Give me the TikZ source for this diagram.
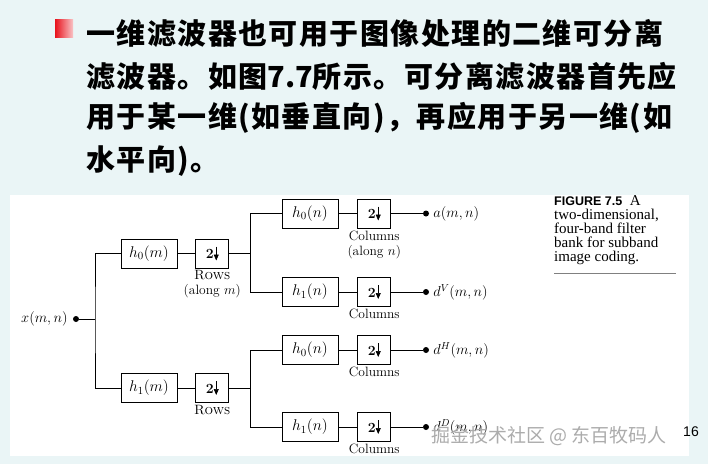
\documentclass[tikz,border=0pt]{standalone}
\usepackage{fix-cm}
\usepackage{fontspec}
\usepackage{amsmath}
\newfontfamily\cjk{Noto Sans CJK SC}[LetterSpace=5]
\newfontfamily\cjkmark{Noto Sans CJK SC}
\newfontfamily\capsans{Liberation Sans}
\newfontfamily\capserif{Liberation Serif}
\usetikzlibrary{positioning,arrows.meta}
\definecolor{slidebg}{RGB}{234,245,246}
\definecolor{bulletred}{RGB}{232,18,28}

% down-sampling arrow
\newcommand{\dsarrow}{\tikz[baseline=0pt,x=1pt,y=1pt]\draw[line width=0.7pt,-{Triangle[length=6pt,width=5pt]}] (0,12)--(0,-2);}

\tikzset{
  filt/.style={draw, line width=0.8pt, minimum width=56pt, minimum height=29pt, inner sep=0pt, font=\fontsize{15.5}{17}\selectfont},
  down/.style={draw, line width=0.8pt, minimum width=33pt, minimum height=29pt, inner sep=0pt, font=\fontsize{14}{16}\selectfont\bfseries},
  tap/.style={circle, fill, inner sep=0pt, minimum size=6pt},
  lbl/.style={font=\fontsize{13.5}{15}\selectfont, align=center, inner sep=1pt},
  sig/.style={font=\fontsize{14.5}{16}\selectfont, inner sep=1pt},
  wire/.style={line width=0.8pt},
  title/.style={font=\cjk\bfseries\fontsize{29}{29}\selectfont, anchor=west, inner sep=0pt}
}

\begin{document}
\begin{tikzpicture}[x=1pt,y=-1pt]
  \useasboundingbox (0,0) rectangle (708,464);
  % Fundo
  \fill[slidebg] (0,0) rectangle (708,464);
  \fill[white] (10,195) rectangle (689,456);

  % Titulo
  \shade[left color=bulletred, right color=bulletred!25] (55,19) rectangle (73,37);
  \node[title] (t1) at (86,33) {一维滤波器也可用于图像处理的二维可分离};
  \node[title] (t2) at (86,76) {滤波器。如图{\addfontfeature{LetterSpace=0}7.7}所示。可分离滤波器首先应};
  \node[title] (t3) at (86,118) {用于某一维(如垂直向)，再应用于另一维(如};
  \node[title] (t4) at (86,161) {水平向)。};

  % Entrada e linhas
  \node[tap] (xin) at (76,319) {};
  \node[sig, left=4pt of xin] (xlab) {$x(m,n)$};
  \coordinate (sp) at (95,319);
  \node[filt] (h0m) at (149,253.5) {$h_0(m)$};
  \node[down, right=18pt of h0m] (d0m) {2\dsarrow};
  \node[filt] (h1m) at (149,388) {$h_1(m)$};
  \node[down, right=18pt of h1m] (d1m) {2\dsarrow};
  \node[lbl, below=1pt of d0m] (r0) {\textsc{Rows}\\(along $m$)};
  \node[lbl, below=1pt of d1m] (r1) {\textsc{Rows}};
  \draw[wire] (xin) -- (sp);
  \draw[wire] (h0m.west) -| (sp) |- (h1m.west);
  \draw[wire] (h0m) -- (d0m);
  \draw[wire] (h1m) -- (d1m);

  % Colunas
  \foreach \nm/\src/\y/\k/\out/\txt in {
      00/d0m/213.5/0/{a(m,n)}/{Columns\\(along $n$)},
      01/d0m/292/1/{d^V(m,n)}/{Columns},
      10/d1m/350/0/{d^H(m,n)}/{Columns},
      11/d1m/427/1/{d^D(m,n)}/{Columns}} {
    \node[filt] (f\nm) at (310,\y) {$h_\k(n)$};
    \node[down, right=19pt of f\nm] (c\nm) {2\dsarrow};
    \node[lbl, below=1pt of c\nm] (cl\nm) {\txt};
    \node[tap] (o\nm) at (426,\y) {};
    \node[sig, right=3pt of o\nm] (ol\nm) {$\out$};
    \draw[wire] (\src.east) -- ++(21,0) |- (f\nm.west);
    \draw[wire] (f\nm) -- (c\nm);
    \draw[wire] (c\nm) -- (o\nm);
  }

  % Legenda
  \node[anchor=north west, align=left, inner sep=0pt, font=\capserif\fontsize{15}{14}\selectfont] (cap) at (554,195)
    {{\capsans\bfseries\fontsize{12.5}{14}\selectfont FIGURE 7.5}\ \ A\\two-dimensional,\\four-band filter\\bank for subband\\image coding.};
  \draw[gray, line width=0.8pt] (554,273) -- (676,273);

  % Marca e pagina
  \node[font=\cjkmark\fontsize{19}{19}\selectfont, text=gray!65] (wm) at (549,436) {掘金技术社区 @ 东百牧码人};
  \node[font=\capsans\fontsize{14}{14}\selectfont] (pg) at (691,432) {16};
\end{tikzpicture}
\end{document}
